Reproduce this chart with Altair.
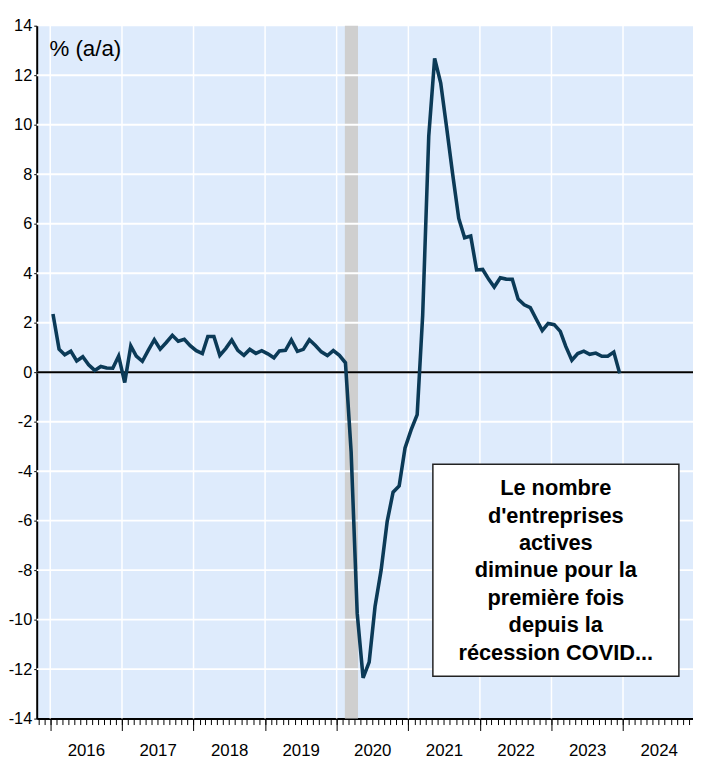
import altair as alt
import pandas as pd

# Monthly series, % (a/a), Jan 2016 - Dec 2023
v2016 = [2.35, 0.93, 0.70, 0.85, 0.45, 0.62, 0.30, 0.07, 0.23, 0.17, 0.16, 0.65]
v2017 = [-0.42, 1.06, 0.65, 0.44, 0.88, 1.31, 0.93, 1.20, 1.49, 1.25, 1.33, 1.07]
v2018 = [0.87, 0.75, 1.44, 1.44, 0.68, 0.96, 1.30, 0.88, 0.68, 0.92, 0.76, 0.87]
v2019 = [0.74, 0.58, 0.86, 0.88, 1.30, 0.84, 0.92, 1.31, 1.08, 0.82, 0.67, 0.87]
v2020 = [0.68, 0.38, -3.22, -9.75, -12.35, -11.72, -9.47, -8.00, -6.03, -4.85, -4.60, -3.06]
v2021 = [-2.33, -1.72, 2.30, 9.54, 12.68, 11.68, 9.90, 8.00, 6.21, 5.43, 5.50, 4.13]
v2022 = [4.15, 3.75, 3.44, 3.81, 3.76, 3.75, 2.95, 2.72, 2.61, 2.15, 1.68, 1.97]
v2023 = [1.92, 1.65, 1.04, 0.48, 0.75, 0.85, 0.72, 0.77, 0.64, 0.64, 0.81, -0.05]

values = v2016 + v2017 + v2018 + v2019 + v2020 + v2021 + v2022 + v2023
dates = pd.date_range("2016-01-01", periods=len(values), freq="MS") + pd.Timedelta(days=14)
df = pd.DataFrame({"date": dates.strftime("%Y-%m-%d"), "value": values})

label_years = list(range(2016, 2025))
y_ticks = list(range(-14, 15, 2))
grid_vals = list(range(-12, 13, 2))

recession = pd.DataFrame({"start": ["2020-02-12"], "end": ["2020-04-19"]})
grid_years = pd.DataFrame({"gdate": [f"{y}-01-01" for y in label_years]})
grid_y = pd.DataFrame({"g": grid_vals})

note_lines = ["Le nombre", "d'entreprises", "actives", "diminue pour la",
              "première fois", "depuis la", "récession COVID..."]
note_box = pd.DataFrame({"x1": ["2021-05-06"], "x2": ["2024-10-12"], "y1": [-3.72], "y2": [-12.29]})
note_pos = pd.DataFrame({"x": ["2023-01-23"], "y": [-4.69]})
unit_pos = pd.DataFrame({"x": ["2015-12-28"], "y": [13.04], "t": ["% (a/a)"]})

month_ticks = [alt.DateTime(year=d.year, month=d.month, date=1)
               for d in pd.date_range("2015-11-01", "2024-12-01", freq="MS")]
year_ticks = [alt.DateTime(year=y, month=1, date=1) for y in label_years]

xscale = alt.Scale(domain=[alt.DateTime(year=2015, month=10, date=24),
                           alt.DateTime(year=2024, month=12, date=23)], nice=False)
yscale = alt.Scale(domain=[-14, 14], nice=False, zero=False)

AX_FONT = "Liberation Sans, Arial, Helvetica, sans-serif"
TXT_FONT = "Liberation Sans, Arial, Helvetica, sans-serif"

yaxis = alt.Axis(values=y_ticks, tickSize=3, tickColor="black", tickWidth=1,
                 domainColor="black", domainWidth=2, grid=False,
                 labelExpr="'' + datum.value",
                 labelFont=AX_FONT, labelFontSize=16.5, labelColor="black",
                 labelPadding=2, title=None)


def Y(field):
    return alt.Y(field, scale=yscale, axis=yaxis, title=None)


band = alt.Chart(recession).mark_rect(color="#CFCFCF").encode(
    x=alt.X("start:T", scale=xscale, axis=None),
    x2="end:T",
)

vgrid = alt.Chart(grid_years).mark_rule(color="white", strokeWidth=1.5).encode(
    x=alt.X("gdate:T", scale=xscale,
            axis=alt.Axis(orient="bottom", values=year_ticks, tickSize=12, tickColor="black",
                          tickWidth=1, domain=False, grid=False, format="%Y",
                          labelOffset=36, labelPadding=12, labelOverlap=False,
                          labelFlush=False, labelFont=AX_FONT, labelFontSize=17,
                          labelColor="black", title=None))
)

hgrid = alt.Chart(grid_y).mark_rule(color="white", strokeWidth=2).encode(
    y=Y("g:Q")
)

zero = alt.Chart(pd.DataFrame({"z": [0]})).mark_rule(color="black", strokeWidth=2).encode(
    y=Y("z:Q")
)

line = alt.Chart(df).mark_line(color="#0B3A57", strokeWidth=3.6).encode(
    x=alt.X("date:T", scale=xscale,
            axis=alt.Axis(orient="bottom", values=month_ticks, tickSize=6, tickColor="black",
                          tickWidth=1, labels=False, grid=False, domain=True,
                          domainColor="black", domainWidth=2, title=None)),
    y=Y("value:Q"),
)

box = alt.Chart(note_box).mark_rect(fill="white", stroke="#222222", strokeWidth=1.5).encode(
    x=alt.X("x1:T", scale=xscale, axis=None), x2="x2:T",
    y=Y("y1:Q"), y2="y2:Q",
)

note = alt.Chart(note_pos).mark_text(
    text=note_lines, font=TXT_FONT, fontSize=22, fontWeight="bold", color="black",
    align="center", baseline="middle", lineHeight=27.7,
).encode(
    x=alt.X("x:T", scale=xscale, axis=None),
    y=Y("y:Q"),
)

unit = alt.Chart(unit_pos).mark_text(
    font=TXT_FONT, fontSize=22.5, color="black", align="left", baseline="middle",
).encode(
    x=alt.X("x:T", scale=xscale, axis=None),
    y=Y("y:Q"),
    text="t:N",
)

chart = alt.layer(band, vgrid, hgrid, zero, line, box, note, unit).resolve_axis(
    x="independent"
).properties(
    width=663, height=700,
    autosize=alt.AutoSizeParams(type="none"),
    padding={"left": 29, "top": 14, "right": 0, "bottom": 44},
).configure_view(fill="#DEEBFC", stroke="transparent")

chart.save("out.html", embed_options={"renderer": "svg", "actions": False})
